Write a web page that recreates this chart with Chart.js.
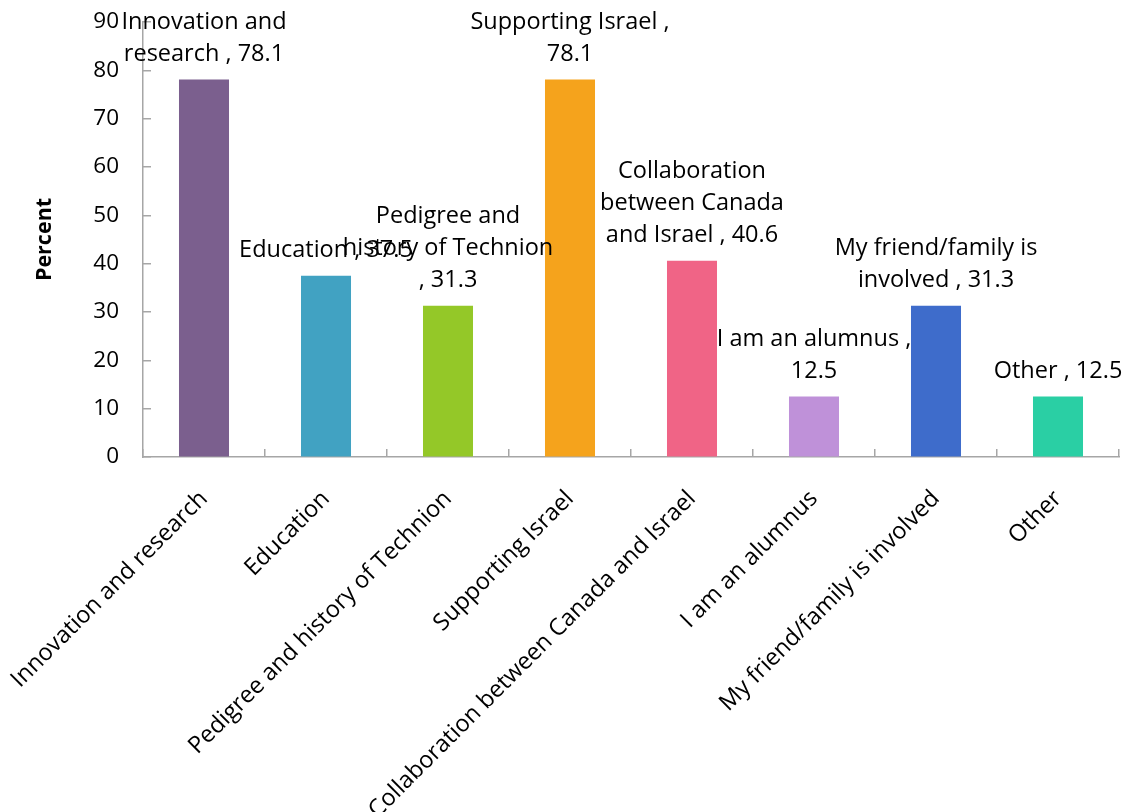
<!DOCTYPE html>
<html>
<head>
<meta charset="utf-8">
<script src="https://cdn.jsdelivr.net/npm/chart.js@4"></script>
<style>
  html, body { margin: 0; padding: 0; background: #fff; }
  #wrap { width: 1128px; height: 812px; }
</style>
</head>
<body>
<div id="wrap"><canvas id="chart"></canvas></div>
<script>
const categories = [
  "Innovation and research",
  "Education",
  "Pedigree and history of Technion",
  "Supporting Israel",
  "Collaboration between Canada and Israel",
  "I am an alumnus",
  "My friend/family is involved",
  "Other",
];
const values = [78.1, 37.5, 31.3, 78.1, 40.6, 12.5, 31.3, 12.5];
const colors = ["#7B5F8E", "#41A2C2", "#94C828", "#F5A31C", "#F06486", "#BF91D9", "#3E6CCB", "#2ACFA4"];
// data label text, wrapped the way the original shows it
const labelLines = [
  ["Innovation and", "research , 78.1"],
  ["Education , 37.5"],
  ["Pedigree and", "history of Technion", ", 31.3"],
  ["Supporting Israel ,", "78.1"],
  ["Collaboration", "between Canada", "and Israel , 40.6"],
  ["I am an alumnus ,", "12.5"],
  ["My friend/family is", "involved , 31.3"],
  ["Other , 12.5"],
];
const yTicks = [0, 10, 20, 30, 40, 50, 60, 70, 80, 90];

const FONT = "'Open Sans', Lato, sans-serif";
const axisGray = "#a6a6a6";
const clear = "rgba(0,0,0,0)";

const barLabels = {
  id: "barLabels",
  afterDatasetsDraw(chart) {
    const c = chart.ctx;
    const meta = chart.getDatasetMeta(0);
    c.save();
    c.font = "23.5px " + FONT;
    c.fillStyle = "#000";
    c.textAlign = "center";
    c.textBaseline = "middle";
    meta.data.forEach((bar, i) => {
      const lines = labelLines[i];
      const lh = 32;
      lines.forEach((t, j) => {
        const y = bar.y - 25 - (lines.length - 1 - j) * lh;
        c.fillText(t, bar.x, y);
      });
    });
    c.restore();
  },
};

const setYTicks = (s) => {
  s.ticks = yTicks.map((v) => ({ value: v }));
};

new Chart(document.getElementById("chart"), {
  type: "bar",
  data: {
    labels: categories,
    datasets: [
      {
        data: values,
        backgroundColor: colors,
        barPercentage: 0.41,
        categoryPercentage: 1,
      },
    ],
  },
  options: {
    responsive: true,
    maintainAspectRatio: false,
    animation: false,
    layout: {
      padding: { top: 22, right: 9, bottom: 0, left: 0 },
    },
    plugins: {
      legend: { display: false },
      tooltip: { enabled: false },
    },
    scales: {
      // labelled category axis (tick marks hidden, used for spacing)
      x: {
        weight: 1,
        grid: {
          offset: true,
          drawOnChartArea: false,
          tickColor: clear,
          tickLength: 28,
        },
        border: { color: axisGray, width: 1.5 },
        ticks: {
          color: "#000",
          font: { family: FONT, size: 23.5 },
          minRotation: 45,
          maxRotation: 45,
          padding: 0,
          autoSkip: false,
        },
        afterFit(s) {
          s.height = 355;
        },
      },
      // inner axis that only draws the inward tick marks
      x2: {
        type: "category",
        position: "bottom",
        weight: 0,
        offset: true,
        grid: {
          offset: true,
          drawOnChartArea: false,
          color: axisGray,
          lineWidth: 1.5,
          tickLength: -8,
        },
        border: { display: false },
        ticks: { display: false },
        afterFit(s) {
          s.height = 0;
        },
      },
      y: {
        weight: 1,
        min: 0,
        max: 90,
        afterBuildTicks: setYTicks,
        grid: {
          drawOnChartArea: false,
          tickColor: clear,
          tickLength: 24,
        },
        border: { color: axisGray, width: 1.5 },
        ticks: {
          color: "#000",
          font: { family: FONT, size: 22.5 },
          padding: 0,
        },
        title: {
          display: true,
          text: "Percent",
          color: "#000",
          font: { family: FONT, size: 21.5, weight: "bold" },
          padding: { top: 32 },
        },
        afterFit(s) {
          s.width = 143;
        },
      },
      y2: {
        position: "left",
        weight: 0,
        min: 0,
        max: 90,
        afterBuildTicks: setYTicks,
        grid: {
          drawOnChartArea: false,
          color: axisGray,
          lineWidth: 1.5,
          tickLength: -8,
        },
        border: { display: false },
        ticks: { display: false },
        afterFit(s) {
          s.width = 0;
        },
      },
    },
  },
  plugins: [barLabels],
});
</script>
</body>
</html>
